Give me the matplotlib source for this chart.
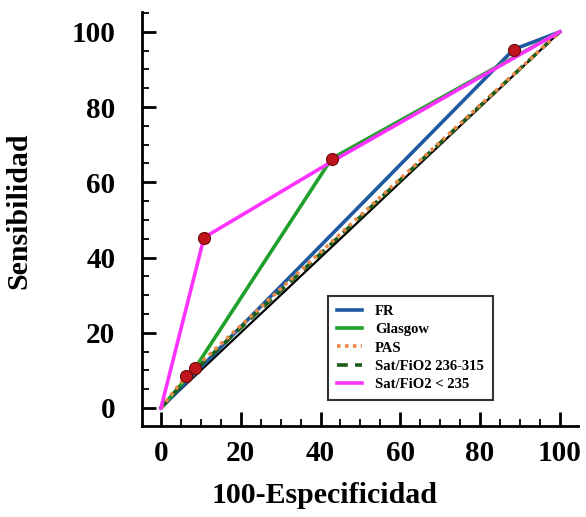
import numpy as np
import matplotlib
matplotlib.use("Agg")
import matplotlib.pyplot as plt
from matplotlib.ticker import MultipleLocator

# ROC curves (100-Especificidad, Sensibilidad)
fr_x = [0, 88.4, 100]
fr_y = [0, 95.3, 100]
glasgow_x = [0, 8.5, 42.8, 100]
glasgow_y = [0, 10.5, 66.3, 100]
pas_x = [0, 6.3, 100]
pas_y = [0, 8.5, 100]
sat1_x = [0, 8.0, 100]
sat1_y = [0, 9.5, 100]
sat2_x = [0, 10.8, 42.8, 100]
sat2_y = [0, 45.3, 65.5, 100]

# cut-off points marked in red
pt_x = [6.3, 8.5, 10.8, 42.8, 88.4]
pt_y = [8.5, 10.5, 45.3, 66.3, 95.3]

plt.rcParams['font.family'] = ['Liberation Serif', 'DejaVu Serif']
plt.rcParams['font.weight'] = 'bold'

fig = plt.figure(figsize=(5.86, 5.17), dpi=100)
ax = fig.add_axes([0.242, 0.176, 0.744, 0.801])

ax.plot([0, 100], [0, 100], color='black', lw=1.6, zorder=1)
ax.plot(fr_x, fr_y, color='#1f5aa0', lw=2.6, label='FR', zorder=3)
ax.plot(glasgow_x, glasgow_y, color='#1ea02a', lw=2.6, label='Glasgow', zorder=3)
ax.plot(pas_x, pas_y, color='#e8894a', lw=2.6, ls=(0, (1, 1.2)), label='PAS', zorder=4)
ax.plot(sat1_x, sat1_y, color='#1a5e1a', lw=2.6, ls=(0, (3, 2)), label='Sat/FiO2 236-315', zorder=3)
ax.plot(sat2_x, sat2_y, color='#ff33ff', lw=2.6, label='Sat/FiO2 < 235', zorder=4)
ax.scatter(pt_x, pt_y, s=75, color='#c0141c', edgecolor='#6a0a0a', lw=0.8, zorder=5)

ax.set_xlim(-4.8, 104.5)
ax.set_ylim(-4.8, 105.3)
ax.spines['top'].set_visible(False)
ax.spines['right'].set_visible(False)
for s in ('left', 'bottom'):
    ax.spines[s].set_linewidth(2)

ax.xaxis.set_major_locator(MultipleLocator(20))
ax.yaxis.set_major_locator(MultipleLocator(20))
ax.xaxis.set_minor_locator(MultipleLocator(5))
ax.yaxis.set_minor_locator(MultipleLocator(5))
ax.tick_params(which='major', direction='in', length=10, width=2, labelsize=21)
ax.tick_params(which='minor', direction='in', length=5, width=1.3)
ax.tick_params(axis='x', which='major', pad=10)
ax.tick_params(axis='y', which='major', pad=19)
for lab in ax.get_xticklabels() + ax.get_yticklabels():
    lab.set_fontweight('bold')

ax.set_xlabel('100-Especificidad', fontsize=21.5, fontweight='bold')
ax.set_ylabel('Sensibilidad', fontsize=21.5, fontweight='bold')
ax.xaxis.set_label_coords(0.42, -0.135)
ax.yaxis.set_label_coords(-0.25, 0.52)

leg = ax.legend(loc='lower right', bbox_to_anchor=(0.805, 0.063), fontsize=10.5,
                frameon=True, fancybox=False, handlelength=1.7, borderaxespad=0,
                borderpad=0.6, labelspacing=0.35, handletextpad=0.9)
leg.get_frame().set_edgecolor('black')
leg.get_frame().set_linewidth(1.5)
for t in leg.get_texts():
    t.set_fontweight('bold')

fig.savefig('out.png', dpi=100)
